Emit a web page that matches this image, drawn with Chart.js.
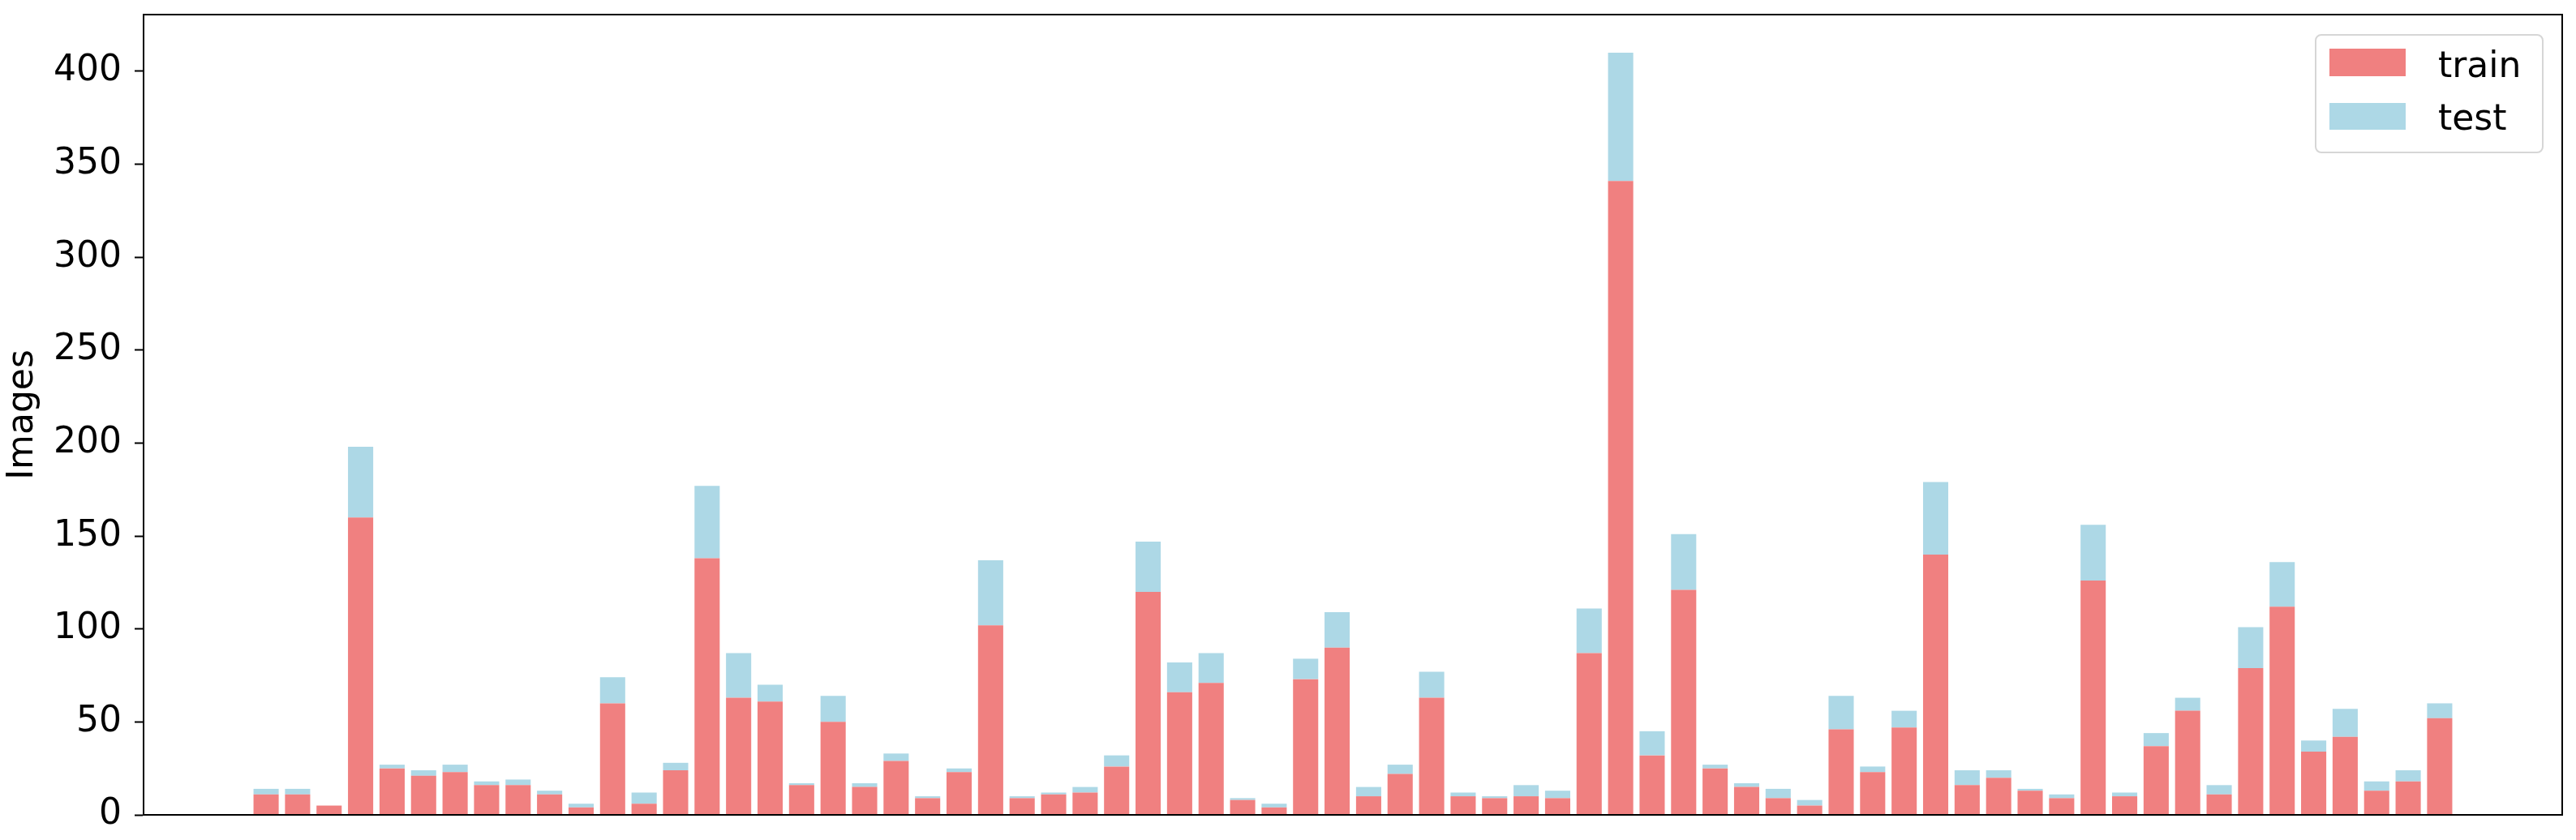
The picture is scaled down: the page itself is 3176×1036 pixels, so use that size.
<!DOCTYPE html>
<html>
<head>
<meta charset="utf-8">
<script src="https://cdn.jsdelivr.net/npm/chart.js@4.4.1/dist/chart.umd.min.js"></script>
<style>
  html, body { margin: 0; padding: 0; background: #fff; }
  #wrap { position: relative; width: 3176px; height: 1036px; }
  #chart { display: block; }
  .legend { position: absolute; left: 2854px; top: 42px; width: 282px; height: 147px;
    box-sizing: border-box; border: 2px solid #d6d6d6; border-radius: 8px; background: rgba(255,255,255,0.8); }
  .patch { position: absolute; left: 2872px; width: 94px; height: 34px; }
  .lbl { position: absolute; left: 3006px; font: 44px/44px "DejaVu Sans", sans-serif; color: #000; white-space: nowrap; }
</style>
</head>
<body>
<div id="wrap">
  <canvas id="chart" width="3176" height="1036"></canvas>
  <div class="legend"></div>
  <div class="patch" style="top:60px;background:#F08080"></div>
  <div class="lbl" style="top:58px">train</div>
  <div class="patch" style="top:127px;height:33px;background:#ADD8E6"></div>
  <div class="lbl" style="top:123px">test</div>
</div>
<script>
// categories (class index) and image counts per split
const categories = Array.from({ length: 70 }, (_, i) => i);
const trainCounts = [
    11, 11, 5, 160, 25, 21, 23, 16, 16, 11, 4, 60, 6, 24, 138,
    63, 61, 16, 50, 15, 29, 9, 23, 102, 9, 11, 12, 26, 120, 66, 71,
    8, 4, 73, 90, 10, 22, 63, 10, 9, 10, 9, 87, 341, 32, 121,
    25, 15, 9, 5, 46, 23, 47, 140, 16, 20, 13, 9, 126, 10, 37,
    56, 11, 79, 112, 34, 42, 13, 18, 52
];
const testCounts = [
    3, 3, 0, 38, 2, 3, 4, 2, 3, 2, 2, 14, 6, 4, 39,
    24, 9, 1, 14, 2, 4, 1, 2, 35, 1, 1, 3, 6, 27, 16, 16,
    1, 2, 11, 19, 5, 5, 14, 2, 1, 6, 4, 24, 69, 13, 30,
    2, 2, 5, 3, 18, 3, 9, 39, 8, 4, 1, 2, 30, 2, 7,
    7, 5, 22, 24, 6, 15, 5, 6, 8
];
const yTicks = [0, 50, 100, 150, 200, 250, 300, 350, 400];

const ctx = document.getElementById('chart').getContext('2d');
Chart.defaults.font.family = '"DejaVu Sans", sans-serif';
Chart.defaults.color = '#000';

// black box around the plot, like matplotlib spines
const frame = {
    id: 'frame',
    afterDatasetsDraw(chart) {
        const a = chart.chartArea;
        const c = chart.ctx;
        c.save();
        c.strokeStyle = '#000';
        c.lineWidth = 2;
        c.strokeRect(a.left, a.top, a.right - a.left, a.bottom - a.top);
        c.restore();
    }
};

const chart = new Chart(ctx, {
    type: 'bar',
    data: {
        datasets: [{
                label: 'train',
                data: categories.map((c, i) => ({ x: c, y: trainCounts[i] })),
                backgroundColor: '#F08080',
                borderWidth: 0,
                barPercentage: 0.8,
                categoryPercentage: 1.0
            },
            {
                label: 'test',
                data: categories.map((c, i) => ({ x: c, y: testCounts[i] })),
                backgroundColor: '#ADD8E6',
                borderWidth: 0,
                barPercentage: 0.8,
                categoryPercentage: 1.0
            }
        ]
    },
    options: {
        responsive: false,
        animation: false,
        layout: { padding: { left: 0, right: 17, top: 18, bottom: 31 } },
        plugins: { legend: { display: false }, tooltip: { enabled: false } },
        scales: {
            x: {
                type: 'linear',
                stacked: true,
                display: false,
                offset: false,
                bounds: 'data',
                min: -3.89,
                max: 72.89,
                grid: { offset: false }
            },
            y: {
                stacked: true,
                min: 0,
                max: 430.5,
                afterFit: s => { s.width = 177; s.paddingTop = 0; s.paddingBottom = 0; },
                afterBuildTicks: s => { s.ticks = yTicks.map(v => ({ value: v })); },
                ticks: { font: { size: 44 }, padding: 16, color: '#000' },
                grid: { display: true, drawOnChartArea: false, drawTicks: true, tickLength: 11, tickColor: '#000', tickWidth: 2 },
                border: { display: true, color: '#000', width: 2 },
                title: { display: true, text: 'Images', font: { size: 44 }, padding: { top: 2, bottom: 0 }, color: '#000' }
            }
        }
    },
    plugins: [frame]
});
</script>
</body>
</html>
